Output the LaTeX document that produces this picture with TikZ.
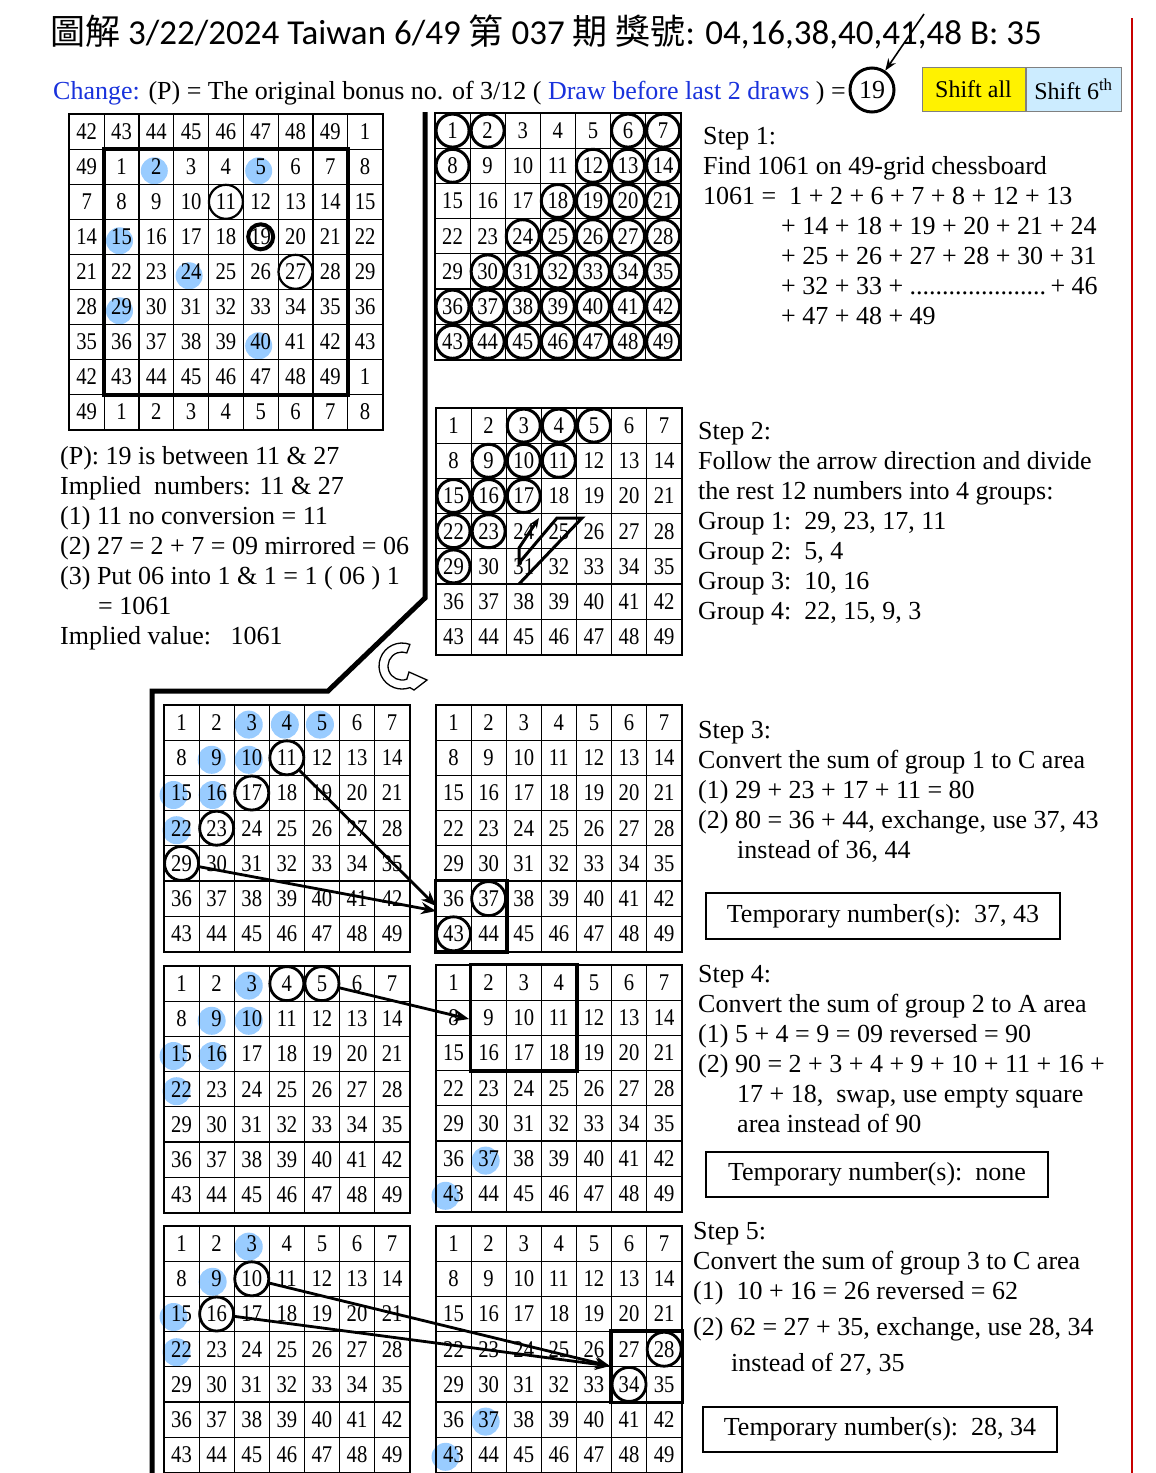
\documentclass[tikz,border=0pt]{standalone}
\usepackage{fontspec}
\setmainfont{Liberation Serif}
\newfontfamily\gridfont[FakeStretch=0.86]{Liberation Serif}
\newfontfamily\titlefont{Carlito}
\newfontfamily\cjkfont{Noto Sans CJK TC}
\usetikzlibrary{arrows.meta, positioning, backgrounds, calc}

\definecolor{dotblue}{RGB}{153,204,255}
\definecolor{textblue}{RGB}{25,50,220}
\definecolor{shiftblue}{RGB}{204,236,255}
\definecolor{sepred}{RGB}{200,0,0}

\newcommand{\bodysize}{\fontsize{26}{30}\selectfont}

% 7x7 board, cells named <name>-<number>
\newcommand{\sevengrid}[3]{%
  \foreach \r in {0,...,6}{%
    \foreach \c in {0,...,6}{%
      \pgfmathtruncatemacro{\cellnum}{\r*7+\c+1}%
      \node[cell] (#1-\cellnum) at ({#2+(\c+0.5)*35.1},{#3+(\r+0.5)*35.2}) {\cellnum};
    }%
  }%
  \draw[gridrim] (#1-1.north west) rectangle (#1-49.south east);
}

\begin{document}
\begin{tikzpicture}[x=1pt, y=-1pt,
    cell/.style={draw, line width=1.2pt, minimum width=35.1pt, minimum height=35.2pt, inner sep=0pt, font=\gridfont\fontsize{24}{24}\selectfont},
    bigcell/.style={cell, minimum width=34.8pt, minimum height=35pt},
    gridrim/.style={line width=1.8pt},
    ring/.style={circle, draw, line width=2.8pt, minimum size=34pt, inner sep=0pt},
    fatring/.style={circle, draw, line width=3pt, minimum size=33pt, inner sep=0pt},
    bluedot/.style={circle, fill=dotblue, minimum size=28pt, inner sep=0pt},
    zone/.style={line width=3.5pt},
    arrowline/.style={-{Stealth[length=15pt, width=12pt]}, line width=2.8pt},
    steptext/.style={anchor=north west, inner sep=0pt, align=left, font=\bodysize},
    tempbox/.style={draw, line width=2pt, inner sep=0pt, font=\bodysize},
    shiftbox/.style={draw=gray, line width=1pt, minimum height=44pt, inner sep=0pt, font=\fontsize{24}{24}\selectfont}
]
    \begin{scope}[on background layer]
        \fill[white] (0,0) rectangle (1156,1473);
    \end{scope}
    \useasboundingbox (0,0) rectangle (1156,1473);

    % Header
    \node[anchor=base west, inner sep=0pt, font=\titlefont\fontsize{35}{40}\selectfont] (title) at (50,44)
        {{\cjkfont 圖解} 3/22/2024 Taiwan 6/49 {\cjkfont 第} 037 {\cjkfont 期 獎號}: 04,16,38,40,41,48\ B: 35};
    \node[anchor=base west, inner sep=0pt, font=\fontsize{26}{30}\selectfont] (change) at (53,99)
        {\textcolor{textblue}{Change:} (P) = The original bonus no. of 3/12 ( \textcolor{textblue}{Draw before last 2 draws} ) =};
    \node[circle, draw, line width=3pt, minimum size=44pt, inner sep=0pt, font=\fontsize{26}{26}\selectfont] (bonus) at (872,90) {19};
    \coordinate (bstart) at (924,14);
    \draw[-{Stealth[length=12pt, width=9pt]}, line width=1.6pt] (bstart) -- (bonus);
    \node[shiftbox, fill=yellow, minimum width=103pt] (shiftall) at (973.5,89) {Shift all};
    \node[shiftbox, fill=shiftblue, minimum width=95pt, right=0pt of shiftall] (shiftsix) {Shift 6\textsuperscript{th}};

    % Separators
    \draw[sepred, line width=2pt] (1132,18) -- (1132,1473);
    \draw[line width=5pt] (425,112) -- (425,598) -- (328,691) -- (152,691) -- (152,1473);

    % 49-grid chessboard with wrap-around
    \foreach \r in {0,...,8}{
        \foreach \c in {0,...,8}{
            \pgfmathtruncatemacro{\cellnum}{mod((\r-1)*7+(\c-1)+49,49)+1}
            \node[bigcell] (T-\r-\c) at ({69.3+(\c+0.5)*34.8},{114.3+(\r+0.5)*35}) {\cellnum};
        }
    }
    \draw[gridrim] (T-0-0.north west) rectangle (T-8-8.south east);
    \draw[line width=4pt] (T-1-1.north west) rectangle (T-7-7.south east);
    \begin{scope}[on background layer]
        \foreach \r/\c in {1/2, 1/5, 3/1, 4/3, 5/1, 6/5}
            \node[bluedot, minimum size=27pt] (T-dot-\r-\c) at ($(T-\r-\c)+(-2,4)$) {};
    \end{scope}
    \node[ring, line width=2.2pt] (T-ring11) at (T-2-4) {};
    \node[ring, line width=4pt, minimum size=25pt] (T-ring19) at (T-3-5) {};
    \node[ring, line width=2.2pt] (T-ring27) at (T-4-6) {};

    \node[steptext] (ptext) at (60,446) {(P): 19 is between 11 \& 27\\
        Implied\ \ numbers: 11 \& 27\\
        (1) 11 no conversion = 11\\
        (2) 27 = 2 + 7 = 09 mirrored = 06\\
        (3) Put 06 into 1 \& 1 = 1 ( 06 ) 1\\
        \hspace*{38pt}= 1061\\
        Implied value:\ \ \ 1061};

    % Step 1
    \sevengrid{A}{435}{113}
    \foreach \n in {1,2,6,7,8,12,13,14,18,19,20,21,24,25,26,27,28,30,31,32,33,34,35,36,37,38,39,40,41,42,43,44,45,46,47,48,49}
        \node[fatring] (A-ring\n) at (A-\n) {};
    \node[steptext] (step1) at (703,127) {Step 1:\\
        Find 1061 on 49-grid chessboard\\
        1061 =\ \ 1 + 2 + 6 + 7 + 8 + 12 + 13\\
        \hspace*{78pt}+ 14 + 18 + 19 + 20 + 21 + 24\\
        \hspace*{78pt}+ 25 + 26 + 27 + 28 + 30 + 31\\
        \hspace*{78pt}+ 32 + 33 + .....................\,+ 46\\
        \hspace*{78pt}+ 47 + 48 + 49};

    % Step 2
    \sevengrid{B}{436}{408}
    \foreach \n in {3,4,5,9,10,11,15,16,17,22,23,29}
        \node[fatring] (B-ring\n) at (B-\n) {};
    \draw[line width=3pt, line join=miter, -{Stealth[length=10pt, width=8pt]}]
        (519,584) -- (582,518) -- (557,518) -- (519,563) -- (519,548) -- (539,518);
    \node[steptext] (step2) at (698,422) {Step 2:\\
        Follow the arrow direction and divide\\
        the rest 12 numbers into 4 groups:\\
        Group 1:\ \ 29, 23, 17, 11\\
        Group 2:\ \ 5, 4\\
        Group 3:\ \ 10, 16\\
        Group 4:\ \ 22, 15, 9, 3};
    \draw[line width=1.3pt, fill=white] (409.9,644.4) arc[start angle=-70, end angle=-290, radius=23]
        -- (414,690) -- (427,680) -- (409,672) -- (406.8,679.2)
        arc[start angle=70, end angle=290, radius=14] -- cycle;

    % Step 3
    \sevengrid{C}{164}{705}
    \sevengrid{D}{436}{705}
    \begin{scope}[on background layer]
        \foreach \n/\dx in {3/-3, 4/-2, 5/-2, 9/-5, 10/-3, 15/-8, 16/-4, 22/-5}
            \node[bluedot] (C-dot\n) at ($(C-\n)+(\dx,2)$) {};
    \end{scope}
    \foreach \n in {11,17,23,29}
        \node[ring] (C-ring\n) at (C-\n) {};
    \draw[zone] (D-36.north west) rectangle (D-44.south east);
    \node[ring] (D-ring37) at (D-37) {};
    \node[ring] (D-ring43) at (D-43) {};
    \coordinate (D-in1) at (436,906);
    \coordinate (D-in2) at (436,911);
    \draw[arrowline] (C-ring11) -- (D-in1);
    \draw[arrowline] (C-ring29) -- (D-in2);
    \node[steptext] (step3) at (698,721) {Step 3:\\
        Convert the sum of group 1 to C area\\
        (1) 29 + 23 + 17 + 11 = 80\\
        (2) 80 = 36 + 44, exchange, use 37, 43\\
        \hspace*{39pt}instead of 36, 44};
    \node[tempbox, minimum width=354pt, minimum height=46pt] (temp3) at (883,916) {Temporary number(s):\ \ 37, 43};

    % Step 4
    \sevengrid{E}{164}{966}
    \sevengrid{F}{436}{965}
    \begin{scope}[on background layer]
        \foreach \n/\dx in {3/-3, 9/-5, 10/-3, 15/-8, 16/-4, 22/-5}
            \node[bluedot] (E-dot\n) at ($(E-\n)+(\dx,2)$) {};
        \node[bluedot] (F-dot37) at ($(F-37)+(-3,2)$) {};
        \node[bluedot] (F-dot43) at ($(F-43)+(-8,2)$) {};
    \end{scope}
    \node[ring] (E-ring4) at (E-4) {};
    \node[ring] (E-ring5) at (E-5) {};
    \draw[zone] (F-2.north west) rectangle (F-18.south east);
    \coordinate (F-in) at (469,1019);
    \draw[arrowline] (E-ring5) -- (F-in);
    \node[steptext] (step4) at (698,965) {Step 4:\\
        Convert the sum of group 2 to A area\\
        (1) 5 + 4 = 9 = 09 reversed = 90\\
        (2) 90 = 2 + 3 + 4 + 9 + 10 + 11 + 16 +\\
        \hspace*{39pt}17 + 18,\ \ swap, use empty square\\
        \hspace*{39pt}area instead of 90};
    \node[tempbox, minimum width=342pt, minimum height=45pt] (temp4) at (877,1174.5) {Temporary number(s):\ \ none};

    % Step 5
    \sevengrid{G}{164}{1226}
    \sevengrid{H}{436}{1226}
    \begin{scope}[on background layer]
        \foreach \n/\dx in {3/-3, 9/-4, 15/-8, 22/-5}
            \node[bluedot] (G-dot\n) at ($(G-\n)+(\dx,3)$) {};
        \node[bluedot] (H-dot37) at ($(H-37)+(-3,2)$) {};
        \node[bluedot] (H-dot43) at ($(H-43)+(-8,2)$) {};
    \end{scope}
    \node[ring] (G-ring10) at (G-10) {};
    \node[ring] (G-ring16) at (G-16) {};
    \draw[zone] (H-27.north west) rectangle (H-35.south east);
    \node[ring] (H-ring28) at (H-28) {};
    \node[ring] (H-ring34) at (H-34) {};
    \coordinate (H-in) at (610,1366);
    \draw[arrowline] (G-ring10) -- (H-in);
    \draw[arrowline] (G-ring16) -- (H-in);
    \node[steptext] (step5) at (693,1222) {Step 5:\\
        Convert the sum of group 3 to C area\\
        (1)\ \ 10 + 16 = 26 reversed = 62\\[6pt]
        (2) 62 = 27 + 35, exchange, use 28, 34\\[6pt]
        \hspace*{38pt}instead of 27, 35};
    \node[tempbox, minimum width=354pt, minimum height=45pt] (temp5) at (880,1429.5) {Temporary number(s):\ \ 28, 34};

\end{tikzpicture}
\end{document}
